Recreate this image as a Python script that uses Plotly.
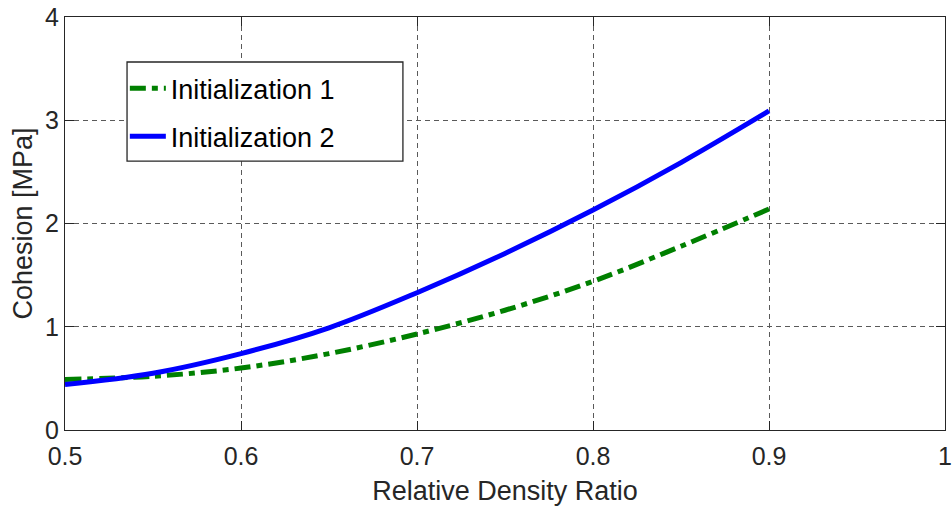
import plotly.graph_objects as go

# Relative density ratio samples and the cohesion obtained from each initialization
density_ratio = [0.50, 0.55, 0.60, 0.65, 0.70, 0.75, 0.80, 0.85, 0.90]
cohesion_init1 = [0.49, 0.52, 0.60, 0.74, 0.93, 1.16, 1.44, 1.78, 2.14]
cohesion_init2 = [0.44, 0.55, 0.74, 0.99, 1.33, 1.71, 2.13, 2.59, 3.09]

x_ticks = [0.5, 0.6, 0.7, 0.8, 0.9, 1.0]
x_tick_text = ["0.5", "0.6", "0.7", "0.8", "0.9", "1"]
y_ticks = [0, 1, 2, 3, 4]

FONT = "Liberation Sans, Arial, sans-serif"
AXIS_COLOR = "#262626"
GRID_COLOR = "#5a5a5a"

fig = go.Figure()
fig.add_trace(go.Scatter(
    x=density_ratio, y=cohesion_init1, mode="lines", name="Initialization 1",
    line=dict(color="#008000", width=5, dash="16px,6px,6px,6px", shape="spline"),
    legendgroup="g1",
))
fig.add_trace(go.Scatter(
    x=density_ratio, y=cohesion_init2, mode="lines", name="Initialization 2",
    line=dict(color="#0000ff", width=5, shape="spline"),
    legendgroup="g2",
))

axis_common = dict(
    showline=True, linecolor=AXIS_COLOR, linewidth=1.3, mirror="ticks",
    ticks="inside", ticklen=9, tickcolor=AXIS_COLOR, tickwidth=1,
    showgrid=True, gridcolor=GRID_COLOR, griddash="5px,4px", gridwidth=1,
    zeroline=False, automargin=False,
    tickfont=dict(family=FONT, size=25, color=AXIS_COLOR),
)

fig.update_xaxes(
    range=[0.5, 1.0], tickvals=x_ticks, ticktext=x_tick_text,
    ticklabelstandoff=4,
    title=dict(text="Relative Density Ratio", font=dict(family=FONT, size=27, color=AXIS_COLOR), standoff=11),
    **axis_common,
)
fig.update_yaxes(
    range=[0, 4], tickvals=y_ticks,
    title=dict(text="Cohesion [MPa]", font=dict(family=FONT, size=27, color=AXIS_COLOR), standoff=4),
    **axis_common,
)

# Legend frame
fig.add_shape(
    type="rect", xref="paper", yref="paper",
    x0=0.0705, x1=0.384, y0=0.651, y1=0.891,
    fillcolor="white", line=dict(color=AXIS_COLOR, width=1.3), layer="above",
)

fig.update_layout(
    width=952, height=514,
    margin=dict(l=65, r=7, t=17, b=84),
    paper_bgcolor="white", plot_bgcolor="white",
    font=dict(family=FONT, color="black"),
    legend=dict(
        x=0.068, y=0.886, xanchor="left", yanchor="top",
        bgcolor="rgba(0,0,0,0)", borderwidth=0,
        font=dict(family=FONT, size=27, color="black"),
        tracegroupgap=10, itemwidth=36,
    ),
)

fig.write_html("out.html")
